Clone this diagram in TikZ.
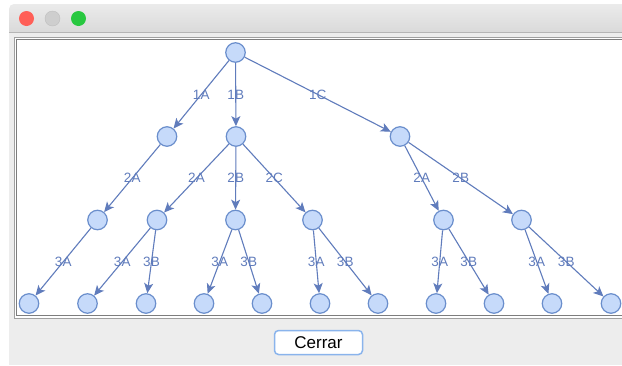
\documentclass[tikz,border=0pt]{standalone}
\usepackage{fontspec}
\setmainfont{Liberation Sans}
\usetikzlibrary{arrows.meta}
\definecolor{edgeblue}{RGB}{96,124,188}
\definecolor{vertfill}{RGB}{198,218,250}
\definecolor{vertdraw}{RGB}{106,142,204}
\definecolor{barhi}{RGB}{235,235,235}
\definecolor{barlo}{RGB}{213,213,213}
\definecolor{winbg}{RGB}{237,237,237}
\definecolor{frameout}{RGB}{160,160,160}
\definecolor{framein}{RGB}{125,125,125}
\definecolor{btnblue}{RGB}{138,180,236}
\tikzset{
  vert/.style={circle,draw=vertdraw,fill=vertfill,line width=1.2pt,minimum size=19.5pt,inner sep=0pt},
  edge/.style={draw=edgeblue,line width=1.1pt,-{Stealth[length=10pt,width=9pt,inset=2.5pt]}},
  lbl/.style={text=edgeblue,font=\fontsize{13.5}{15}\selectfont,inner sep=0pt},
  light/.style={circle,minimum size=15pt,inner sep=0pt},
}
\newcommand{\lbledge}[3]{\draw[edge] (#1) -- node[lbl] {#3} (#2);}

\begin{document}
\begin{tikzpicture}[x=1pt,y=-1pt]
        \clip (0,0) rectangle (622,365);
        \fill[white] (0,0) rectangle (622,365);

        % window
        \shade[top color=barhi,bottom color=barlo,rounded corners=5pt] (9,4) rectangle (650,40);
        \fill[winbg] (9,32) rectangle (650,365);
        \draw[barlo!85!black,line width=0.6pt] (9,32) -- (650,32);
        \node[light,fill={rgb,255:red,255;green,95;blue,87}] (red) at (26.5,18.5) {};
        \node[light,fill={rgb,255:red,206;green,206;blue,206},draw={rgb,255:red,190;green,190;blue,190}] (grey) at (52.5,18.5) {};
        \node[light,fill={rgb,255:red,40;green,200;blue,64}] (green) at (78.5,18.5) {};

        % panel
        \fill[white] (14,37) rectangle (650,318);
        \draw[frameout,line width=1pt] (14,37) rectangle (650,318);
        \draw[framein,line width=1pt] (16.5,39.5) rectangle (650,315.5);

        % tree
        \node[vert] (r) at (235.5,52.5) {};

        \node[vert] (a) at (167,136.5) {};
        \node[vert] (b) at (236,136.5) {};
        \node[vert] (c) at (400,136.5) {};

        \node[vert] (aa) at (97.5,220) {};
        \node[vert] (ba) at (157,220) {};
        \node[vert] (bb) at (235.5,220) {};
        \node[vert] (bc) at (312.5,220) {};
        \node[vert] (ca) at (443.5,220) {};
        \node[vert] (cb) at (521.5,220) {};

        \node[vert] (aaa) at (29,303.5) {};
        \node[vert] (baa) at (87.5,303.5) {};
        \node[vert] (bab) at (146,303.5) {};
        \node[vert] (bba) at (204,303.5) {};
        \node[vert] (bbb) at (262,303.5) {};
        \node[vert] (bca) at (320,303.5) {};
        \node[vert] (bcb) at (378,303.5) {};
        \node[vert] (caa) at (436,303.5) {};
        \node[vert] (cab) at (494,303.5) {};
        \node[vert] (cba) at (552,303.5) {};
        \node[vert] (cbb) at (611,303.5) {};

        \lbledge{r}{a}{1A}
        \lbledge{r}{b}{1B}
        \lbledge{r}{c}{1C}

        \lbledge{a}{aa}{2A}
        \lbledge{b}{ba}{2A}
        \lbledge{b}{bb}{2B}
        \lbledge{b}{bc}{2C}
        \lbledge{c}{ca}{2A}
        \lbledge{c}{cb}{2B}

        \lbledge{aa}{aaa}{3A}
        \lbledge{ba}{baa}{3A}
        \lbledge{ba}{bab}{3B}
        \lbledge{bb}{bba}{3A}
        \lbledge{bb}{bbb}{3B}
        \lbledge{bc}{bca}{3A}
        \lbledge{bc}{bcb}{3B}
        \lbledge{ca}{caa}{3A}
        \lbledge{ca}{cab}{3B}
        \lbledge{cb}{cba}{3A}
        \lbledge{cb}{cbb}{3B}

        % button
        \node[draw=btnblue,fill=white,rounded corners=4pt,line width=1.5pt,minimum width=88pt,minimum height=24pt,font=\fontsize{17}{20}\selectfont] (cerrar) at (318.5,342.5) {Cerrar};
\end{tikzpicture}
\end{document}
